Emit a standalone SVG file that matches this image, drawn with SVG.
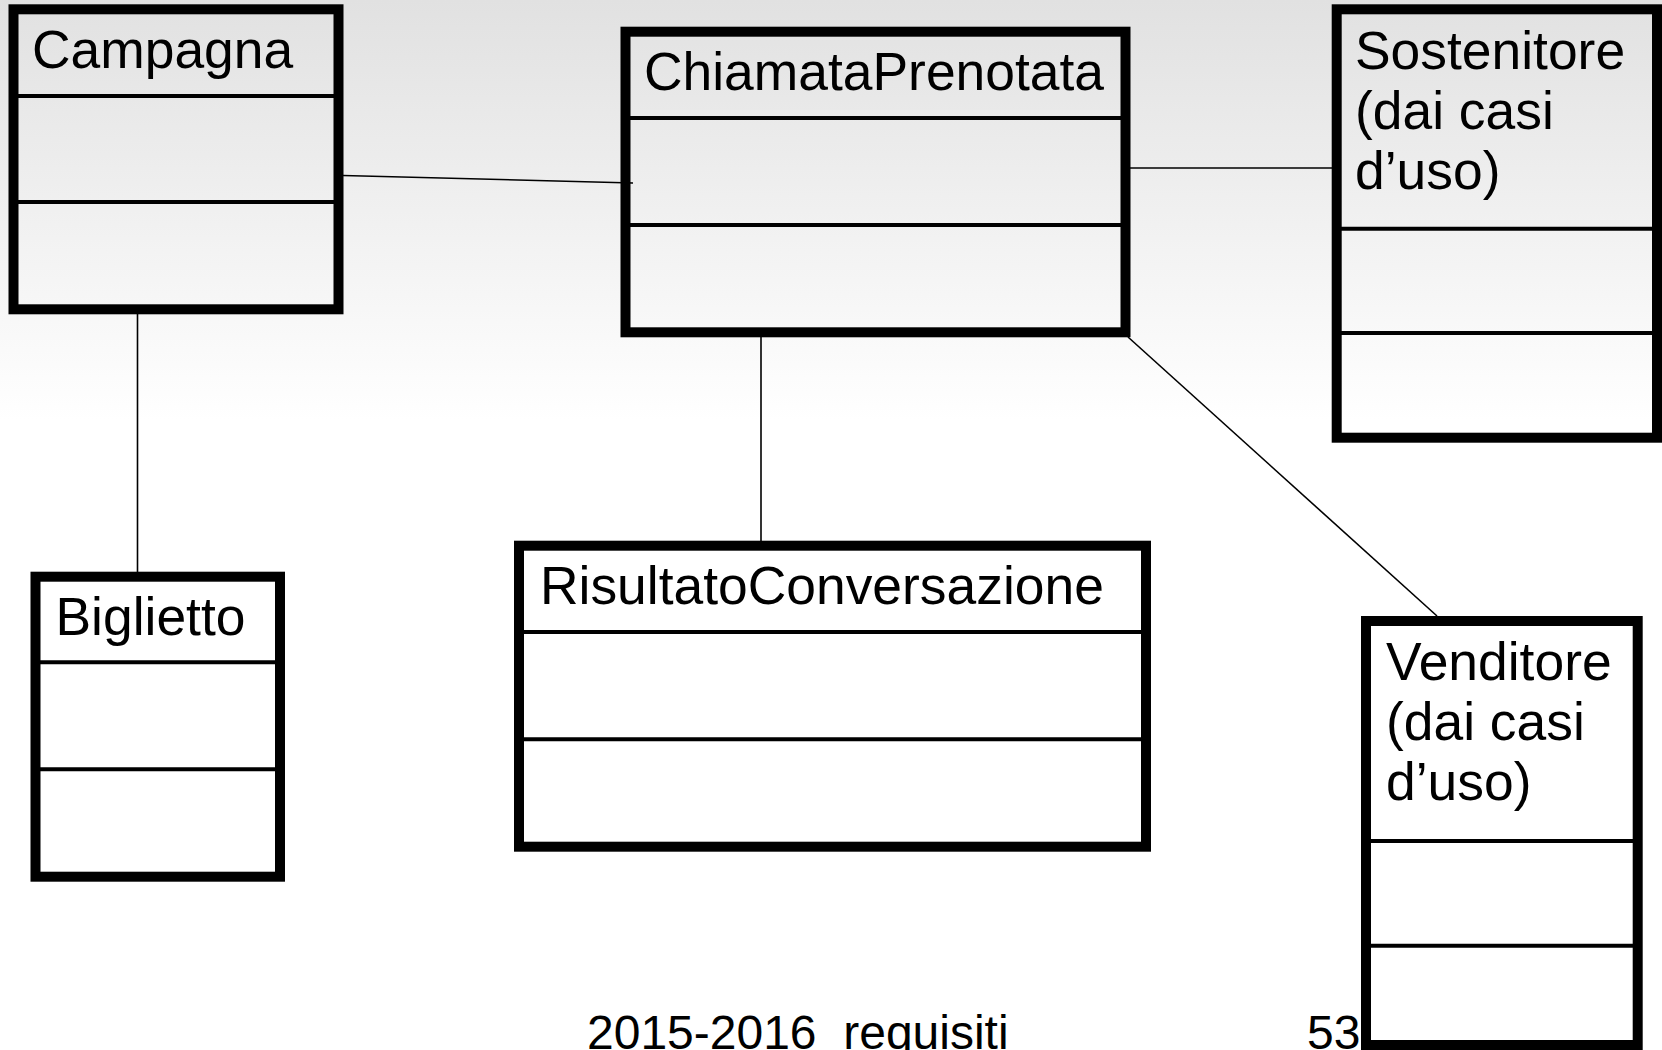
<svg xmlns="http://www.w3.org/2000/svg" width="1662" height="1050" viewBox="0 0 1662 1050">
  <defs>
    <linearGradient id="bg" x1="0" y1="0" x2="0" y2="1050" gradientUnits="userSpaceOnUse">
      <stop offset="0" stop-color="#e1e1e1"/>
      <stop offset="0.4" stop-color="#ffffff"/>
      <stop offset="1" stop-color="#ffffff"/>
    </linearGradient>
    <style>
      .box { fill: none; stroke: #000; stroke-width: 10; stroke-linejoin: miter; }
      .div { stroke: #000; stroke-width: 4; }
      .lbl { font-family: "Liberation Sans", Arial, sans-serif; font-size: 53.4px; fill: #000; }
      .foot { font-family: "Liberation Sans", Arial, sans-serif; font-size: 48px; fill: #000; }
      .conn { stroke: #000; stroke-width: 1.6; fill: none; }
    </style>
  </defs>
  <rect x="0" y="0" width="1662" height="1050" fill="url(#bg)"/>

  <g id="connectors">
    <line class="conn" x1="343" y1="175.5" x2="633" y2="183"/>
    <line class="conn" x1="1130" y1="168" x2="1332" y2="168"/>
    <line class="conn" x1="137.5" y1="314" x2="137.5" y2="572"/>
    <line class="conn" x1="761" y1="337" x2="761" y2="541"/>
    <line class="conn" x1="1128" y1="337" x2="1437" y2="616"/>
  </g>

  <g id="campagna">
    <rect class="box" x="13.5" y="9.3" width="325" height="300"/>
    <line class="div" x1="13.5" y1="96" x2="338.5" y2="96"/>
    <line class="div" x1="13.5" y1="202" x2="338.5" y2="202"/>
    <text class="lbl" x="32" y="68">Campagna</text>
  </g>

  <g id="chiamataprenotata">
    <rect class="box" x="625.5" y="31.7" width="500" height="300.6"/>
    <line class="div" x1="625.5" y1="118" x2="1125.5" y2="118"/>
    <line class="div" x1="625.5" y1="225" x2="1125.5" y2="225"/>
    <text class="lbl" x="644" y="89.5">ChiamataPrenotata</text>
  </g>

  <g id="sostenitore">
    <rect class="box" x="1336.7" y="9.3" width="320.3" height="428.4"/>
    <line class="div" x1="1336.7" y1="228.7" x2="1657" y2="228.7"/>
    <line class="div" x1="1336.7" y1="333" x2="1657" y2="333"/>
    <text class="lbl" x="1355" y="69">Sostenitore</text>
    <text class="lbl" x="1355" y="129">(dai casi</text>
    <text class="lbl" x="1355" y="189">d’uso)</text>
  </g>

  <g id="biglietto">
    <rect class="box" x="35.5" y="576.7" width="244.5" height="300"/>
    <line class="div" x1="35.5" y1="662.3" x2="280" y2="662.3"/>
    <line class="div" x1="35.5" y1="769.3" x2="280" y2="769.3"/>
    <text class="lbl" x="55.5" y="635">Biglietto</text>
  </g>

  <g id="risultatoconversazione">
    <rect class="box" x="519" y="545.7" width="627" height="301"/>
    <line class="div" x1="519" y1="632" x2="1146" y2="632"/>
    <line class="div" x1="519" y1="739.3" x2="1146" y2="739.3"/>
    <text class="lbl" x="540" y="604">RisultatoConversazione</text>
  </g>

  <g id="venditore">
    <rect class="box" x="1366" y="621" width="271.7" height="424"/>
    <line class="div" x1="1366" y1="841" x2="1637.7" y2="841"/>
    <line class="div" x1="1366" y1="945.7" x2="1637.7" y2="945.7"/>
    <text class="lbl" x="1386" y="680">Venditore</text>
    <text class="lbl" x="1386" y="740">(dai casi</text>
    <text class="lbl" x="1386" y="800">d’uso)</text>
  </g>

  <g id="footer">
    <text class="foot" x="587" y="1049" xml:space="preserve">2015-2016  requisiti</text>
    <text class="foot" x="1307" y="1049">53</text>
  </g>
</svg>
